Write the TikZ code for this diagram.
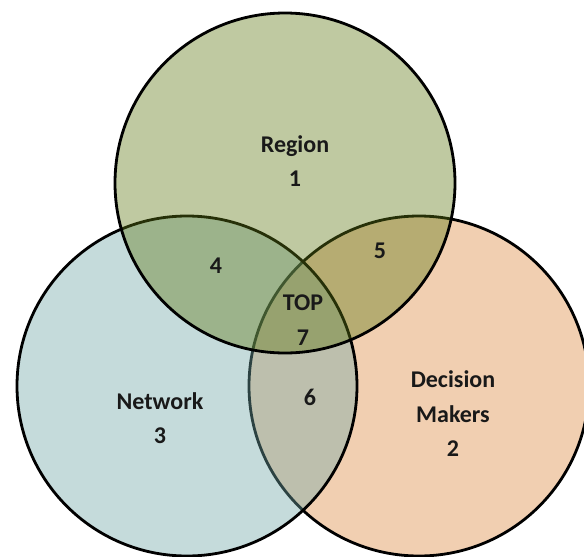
\documentclass[tikz,border=0pt]{standalone}
\usepackage{fontspec}
\setmainfont{Carlito}
\definecolor{regioncol}{RGB}{95,120,20}
\definecolor{networkcol}{RGB}{112,167,167}
\definecolor{makerscol}{RGB}{220,135,60}
\tikzset{
  set/.style={draw=black, line width=2.8pt, fill opacity=0.4},
  lbl/.style={font=\bfseries\fontsize{24}{34.5}\selectfont, align=center, text=black!90}
}
\begin{document}
\begin{tikzpicture}[x=1pt, y=-1pt]
  \fill[white] (0,0) rectangle (584,557);
  \useasboundingbox (0,0) rectangle (584,557);
  % the three sets
  \path[set, fill=makerscol] (419,386) circle (170);
  \path[set, fill=networkcol] (187,386) circle (170);
  \path[set, fill=regioncol] (285,183) circle (170);
  % labels
  \node[lbl] (region) at (295,161) {Region\\1};
  \node[lbl] (network) at (160,418) {Network\\3};
  \node[lbl] (makers) at (453,414) {Decision\\Makers\\2};
  \node[lbl] (rn) at (216,266) {4};
  \node[lbl] (rm) at (380,251) {5};
  \node[lbl] (nm) at (310,397) {6};
  \node[lbl] (top) at (303,320) {TOP\\7};
\end{tikzpicture}
\end{document}
